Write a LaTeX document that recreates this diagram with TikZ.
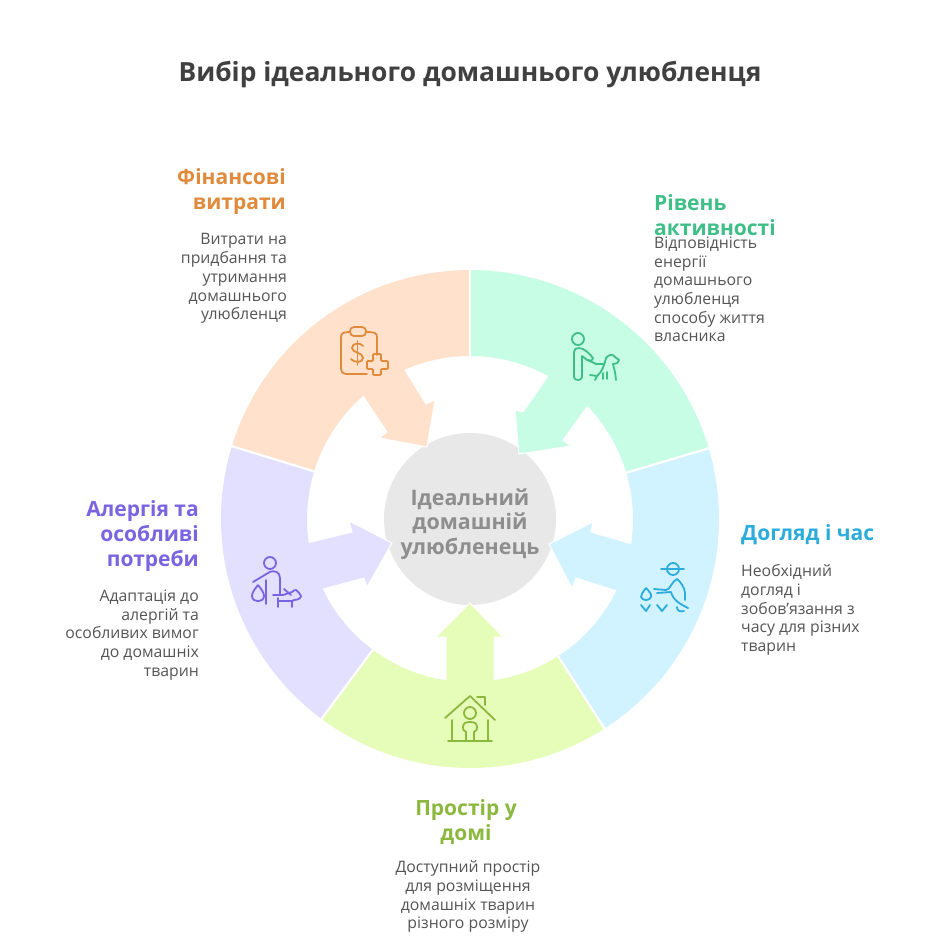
\documentclass[tikz,border=0pt]{standalone}
\usepackage{fontspec}
\setmainfont{Open Sans}
\usetikzlibrary{calc}
\definecolor{fO}{HTML}{FFE1CC}\definecolor{tO}{HTML}{E08A3C}
\definecolor{fG}{HTML}{C7FDE5}\definecolor{tG}{HTML}{3FBF87}
\definecolor{fB}{HTML}{D1F3FF}\definecolor{tB}{HTML}{2BACDB}
\definecolor{fL}{HTML}{E6FCB9}\definecolor{tL}{HTML}{8DB83F}
\definecolor{fP}{HTML}{E3DFFF}\definecolor{tP}{HTML}{7A64E0}
\definecolor{hub}{HTML}{E8E8E8}\definecolor{hubt}{HTML}{8E8E8E}
\definecolor{bodyt}{HTML}{555555}\definecolor{titlet}{HTML}{404040}
\newcommand\petalarrow[8]{\path[fill=#1,draw=white,line width=1pt,line join=miter]
 (#2) -- (#3) -- (#4) -- (#5) -- ($(470,519)!1.12!(#5)$) -- ($(470,519)!1.12!(#6)$) -- (#6) -- (#7) -- (#8) -- cycle;}
\newcommand\petalband[3]{\begin{scope}[shift={(470,519)},y=1pt]
 \fill[#1] (#2:249) arc[start angle=#2,end angle=#3,radius=249] -- (#3:163) arc[start angle=#3,end angle=#2,radius=163] -- cycle;
 \end{scope}}
\newcommand\gapline[1]{\begin{scope}[shift={(470,519)},y=1pt]
 \draw[white,line width=2.2pt] (#1:161) -- (#1:251);
 \end{scope}}
\tikzset{
 icon/.style={line width=1.8pt,line cap=round,line join=round,fill=none},
 headtxt/.style={inner sep=0pt,font=\fontsize{21}{25}\selectfont\bfseries},
 bodytxt/.style={inner sep=0pt,text=bodyt,font=\fontsize{15.8}{18.7}\selectfont},
}
\begin{document}
\begin{tikzpicture}[x=1pt,y=-1pt]
\useasboundingbox (0,0) rectangle (940,945);
\fill[white] (0,0) rectangle (940,945);
\fill[hub] (470,519) circle[radius=86];
\petalarrow{fO}{427,447}{435,400}{426,404}{405,370}{363,396}{387,432}{379,438}
\petalarrow{fG}{519,454}{515,410}{523,412}{548,376}{587,407}{563,440}{571,446}
\petalarrow{fB}{549,544}{593,522}{591,532}{632,544}{617,591}{576,578}{572,588}
\petalarrow{fL}{470,603}{503,637}{494,637}{494,680}{446,680}{446,637}{436,637}
\petalarrow{fP}{392,543}{349,521}{352,532}{307,543}{323,589}{364,578}{367,587}
\petalband{fO}{90}{163}
\petalband{fG}{16.5}{90}
\petalband{fB}{-57.3}{16.5}
\petalband{fL}{-126.6}{-57.3}
\petalband{fP}{163}{233.4}
\gapline{90}\gapline{16.5}\gapline{-57.3}\gapline{-126.6}\gapline{163}

% icons
\begin{scope}[icon,draw=tO]
\draw (377,355) -- (377,337) .. controls (377,333) and (375,332) .. (366,332);
\draw (350,332) .. controls (344,332) and (341,333) .. (341,337) -- (341,369) .. controls (341,372) and (343,374) .. (346,374) -- (367,374);
\draw[rounded corners=4pt] (350,327) rectangle (366,336);
\draw (363,346) .. controls (360,342) and (352,343) .. (352,348) .. controls (352,353) and (363,352) .. (363,358) .. controls (363,363) and (354,363) .. (351,359);
\draw (357.5,341) -- (357.5,365);
\draw[rounded corners=1pt] (373,354) -- (381,354) -- (381,361) -- (388,361) -- (388,369) -- (381,369) -- (381,375) -- (373,375) -- (373,369) -- (367,369) -- (367,361) -- (373,361) -- cycle;
\end{scope}
\begin{scope}[icon,draw=tG]
\draw (578,339) circle[radius=6];
\draw (574,377) -- (574,352) .. controls (574,349) and (576,348) .. (579,348) .. controls (584,348) and (590,354) .. (593,358) .. controls (592,361) and (589,362) .. (587,360) -- (582,356) -- (582,377) .. controls (582,381) and (574,381) .. (574,377);
\draw (588,360) -- (596,364) -- (604,364);
\draw (606,358) .. controls (609,354) and (613,354) .. (615,357) -- (619,360) .. controls (619,363) and (616,364) .. (613,364) -- (615,372) -- (616,380);
\draw (606,358) .. controls (604,366) and (602,372) .. (597,376) -- (590,375);
\draw (597,376) -- (595,380);
\draw (603,373) -- (603,379);
\draw (607,372) -- (607,379);
\end{scope}
\begin{scope}[icon,draw=tB]
\draw (673,569) circle[radius=6];
\draw (661,569) -- (684,569);
\draw (654,589) -- (666,590) .. controls (670,590) and (672,581) .. (677,579) .. controls (680,581) and (685,588) .. (685,593) -- (685,600);
\draw (657,593) -- (671,592) .. controls (673,600) and (680,604) .. (688,608);
\draw (646,588) .. controls (650,592) and (652,595) .. (651,597) .. controls (650,601) and (642,601) .. (641,597) .. controls (641,594) and (643,592) .. (646,588);
\draw (641,605) -- (646,611) -- (650,605);
\draw (657,605) -- (662,611) -- (667,605);
\draw (677,607) .. controls (677,611) and (680,612) .. (684,611);
\end{scope}
\begin{scope}[icon,draw=tL]
\draw (445,718) -- (470,696) -- (495,720);
\draw (477,697) -- (485,697) -- (485,705);
\draw (452,720) -- (452,741);
\draw (488,720) -- (488,741);
\draw (448,741) -- (492,741);
\draw (470,713) circle[radius=6];
\draw (466,741) -- (466,732) .. controls (463,731) and (463,729) .. (463,727) .. controls (463,723) and (466,722) .. (470,722) .. controls (474,722) and (477,723) .. (477,727) .. controls (477,729) and (477,731) .. (474,732) -- (474,741);
\end{scope}
\begin{scope}[icon,draw=tP]
\draw (270,563) circle[radius=6];
\draw (253,582) -- (268,573) .. controls (274,569) and (280,572) .. (280,578) -- (280,594);
\draw (266,580) -- (266,604);
\draw (258,585) .. controls (262,590) and (264,593) .. (264,596) .. controls (264,603) and (252,603) .. (252,596) .. controls (252,593) and (254,590) .. (258,585);
\draw (273,595) -- (283,595) -- (292,592);
\draw (284,589) -- (291,595);
\draw (292,592) .. controls (294,590) and (295,590) .. (296,590) .. controls (298,592) and (300,593) .. (301,596) .. controls (301,598) and (298,600) .. (294,600) -- (292,601) -- (292,607);
\draw (278,598) -- (278,607);
\draw (278,601) -- (292,601);
\end{scope}

% texts
\node[inner sep=0pt,text=titlet,font=\fontsize{26.4}{30}\selectfont\bfseries] (title) at (470,75) {Вибір ідеального домашнього улюбленця};
\node[inner sep=0pt,align=center,text=hubt,font=\fontsize{21.4}{24.5}\selectfont\bfseries] (hubtext) at (470,524) {Ідеальний\\домашній\\улюбленець};

\node[headtxt,text=tO,align=right,anchor=north east] (h1) at (286,168) {Фінансові\\витрати};
\node[bodytxt,align=right,anchor=north east] (b1) at (287,233.5) {Витрати на\\придбання та\\утримання\\домашнього\\улюбленця};

\node[headtxt,text=tG,align=left,anchor=north west] (h2) at (654,194) {Рівень\\активності};
\node[bodytxt,align=left,anchor=north west] (b2) at (654,236.5) {Відповідність\\енергії\\домашнього\\улюбленця\\способу життя\\власника};

\node[headtxt,text=tB,align=left,anchor=north west] (h3) at (741,524) {Догляд і час};
\node[bodytxt,align=left,anchor=north west] (b3) at (741,564.5) {Необхідний\\догляд і\\зобов'язання з\\часу для різних\\тварин};

\node[headtxt,text=tL,align=center,anchor=north] (h4) at (466,799) {Простір у\\домі};
\node[bodytxt,align=center,anchor=north] (b4) at (468,860.5) {Доступний простір\\для розміщення\\домашніх тварин\\різного розміру};

\node[headtxt,text=tP,align=right,anchor=north east] (h5) at (199,500) {Алергія та\\особливі\\потреби};
\node[bodytxt,align=right,anchor=north east] (b5) at (199,589.5) {Адаптація до\\алергій та\\особливих вимог\\до домашніх\\тварин};
\end{tikzpicture}
\end{document}
